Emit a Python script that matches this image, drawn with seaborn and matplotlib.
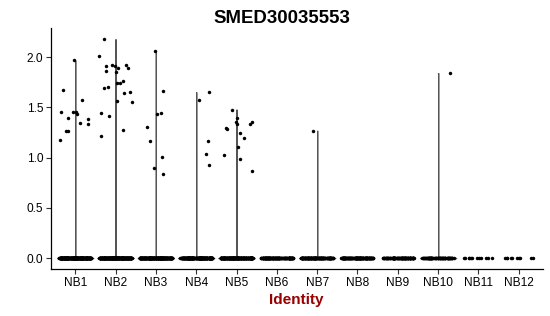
import numpy as np
import pandas as pd
import matplotlib
matplotlib.use("Agg")
import matplotlib.pyplot as plt
import seaborn as sns

title = "SMED30035553"
xlabel = "Identity"
categories = ["NB1", "NB2", "NB3", "NB4", "NB5", "NB6",
              "NB7", "NB8", "NB9", "NB10", "NB11", "NB12"]

# expression values above zero, per identity
nb1 = [1.435, 1.571, 1.389, 1.452, 1.336, 1.382, 1.668, 1.269, 1.449, 1.455,
       1.176, 1.967, 1.339, 1.269]
nb2 = [2.179, 2.010, 1.907, 1.860, 1.850, 1.887, 1.924, 1.914, 1.890, 1.924,
       1.761, 1.744, 1.744, 1.704, 1.654, 1.645, 1.688, 1.558, 1.555, 1.445,
       1.412, 1.276, 1.213]
nb3 = [2.060, 1.664, 1.442, 1.429, 1.302, 1.166, 1.003, 0.894, 0.834]
nb4 = [1.571, 1.651, 1.166, 1.040, 0.924]
nb5 = [1.349, 1.332, 1.199, 0.990, 0.864, 1.332, 1.286, 1.392, 1.478, 1.349,
       1.296, 1.243, 1.103, 1.030]
nb6 = []
nb7 = [1.267]
nb8 = []
nb9 = []
nb10 = [1.840]
nb11 = []
nb12 = []
nonzero = [nb1, nb2, nb3, nb4, nb5, nb6, nb7, nb8, nb9, nb10, nb11, nb12]

# number of cells with zero expression, per identity (estimated)
zero_counts = [300, 280, 260, 240, 240, 150, 150, 150, 110, 80, 12, 10]

rows = []
for cat, vals, nz in zip(categories, nonzero, zero_counts):
    for v in vals:
        rows.append((cat, v))
    for _ in range(nz):
        rows.append((cat, 0.0))
df = pd.DataFrame(rows, columns=["ident", "expr"])

sns.set_style("white")
plt.rcParams["font.family"] = ["Liberation Sans", "DejaVu Sans"]

fig = plt.figure(figsize=(5.5, 3.16), dpi=100)
ax = fig.add_axes([51 / 550, 1 - 269 / 316, (543 - 51) / 550, (269 - 28) / 316])

vdf = df[df["ident"].isin([c for c, v in zip(categories, nonzero) if len(v) > 0])]
sns.violinplot(data=vdf, x="ident", y="expr", order=categories, ax=ax,
               cut=0, density_norm="width", inner=None, bw_adjust=0.05,
               color="#222222", linecolor="#555555", linewidth=0.9,
               width=0.9, gridsize=200)

np.random.seed(3)
sns.stripplot(data=df, x="ident", y="expr", order=categories, ax=ax,
              jitter=0.4, size=2.5, color="black", linewidth=0, zorder=3)

ax.set_xlim(-0.6, 11.6)
ax.set_ylim(-0.109, 2.289)
ax.set_yticks([0.0, 0.5, 1.0, 1.5, 2.0])
ax.set_yticklabels(["0.0", "0.5", "1.0", "1.5", "2.0"])
ax.set_xlabel("")
ax.set_ylabel("")
for s in ["top", "right"]:
    ax.spines[s].set_visible(False)
for s in ["left", "bottom"]:
    ax.spines[s].set_color("black")
    ax.spines[s].set_linewidth(0.9)
ax.tick_params(axis="both", which="major", length=3.5, width=0.8,
               color="#333333", labelsize=8.6, labelcolor="black", pad=2,
               bottom=True, left=True)

fig.text(282 / 550, 1 - 23 / 316, title, ha="center", va="baseline",
         fontsize=13.4, fontweight="bold", color="black")
fig.text(296.5 / 550, 1 - 304 / 316, xlabel, ha="center", va="baseline",
         fontsize=11.1, fontweight="bold", color="#990000")

fig.savefig("out.png", dpi=100)
